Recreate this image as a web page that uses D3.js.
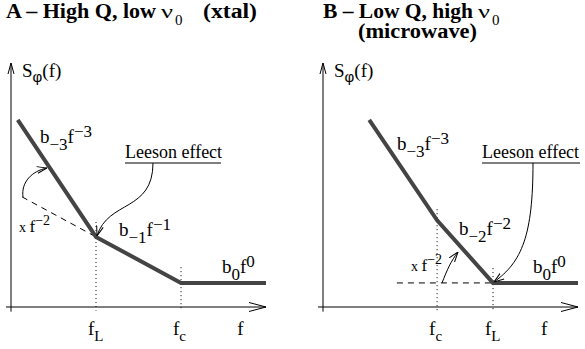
<!DOCTYPE html>
<html>
<head>
<meta charset="utf-8">
<script src="https://cdn.jsdelivr.net/npm/d3@7"></script>
<style>
  html, body { margin: 0; padding: 0; background: #fff; }
  svg { display: block; }
  text { font-family: "Liberation Serif", "Times New Roman", serif; fill: #000; }
</style>
</head>
<body>
<svg id="chart" width="585" height="349"></svg>
<script>
// Phase-noise power-law sketches (log-log), two oscillator types.

// Panel A: high-Q resonator (quartz) -- S_phi(f) breakpoints
const aFreq = [1.2, 10, 100, 1000];
const aNoise = [3500, 10, 1, 1];
// f^-1 segment extended back to low frequency (dashed guide)
const aGuideFreq = [1.35, 10];
const aGuideNoise = [74, 10];
// corner frequencies marked on the f axis, with the height of each dotted marker
const aCornerFreq = [10, 100];
const aCornerTop = [21, 2.2];
const aCornerSub = ["L", "c"];

// Panel B: low-Q resonator (microwave)
const bFreq = [3.5, 22, 100, 1000];
const bNoise = [3500, 23, 1, 1];
// flat floor extended back to low frequency (dashed guide)
const bGuideFreq = [7.4, 100];
const bGuideNoise = [1, 1];
const bCornerFreq = [22, 100];
const bCornerTop = [40, 2.1];
const bCornerSub = ["c", "L"];

const freqDomain = [1, 1000];
const noiseDomain = [0.3, 60000];
const noiseBottom = 0.25;

const SANS = "Liberation Sans, Arial, sans-serif";
const svg = d3.select("#chart");

// open arrowhead marker
const defs = svg.append("defs");
defs.append("marker")
  .attr("id", "openHead")
  .attr("viewBox", "0 0 10 10")
  .attr("refX", 10).attr("refY", 5)
  .attr("markerWidth", 10).attr("markerHeight", 10)
  .attr("markerUnits", "userSpaceOnUse")
  .attr("orient", "auto")
  .append("path")
  .attr("d", "M0,1.6 L10,5 L0,8.4")
  .attr("fill", "none").attr("stroke", "#000").attr("stroke-width", 1);

// text helper: parts = [text, kind, attrs]; kind "n", "sub" or "sup"
function richText(g, x, y, parts, size, opts = {}) {
  const t = g.append("text").attr("x", x).attr("y", y).attr("font-size", size);
  if (opts.weight) t.attr("font-weight", opts.weight);
  const small = opts.small || size * 0.9;
  const drop = opts.drop || 7, rise = opts.rise || 6;
  let shift = 0;
  parts.forEach(([s, kind, extra]) => {
    const ts = t.append("tspan").text(s);
    let target = 0, fs = size;
    if (kind === "sub") { target = drop; fs = small; }
    if (kind === "sup") { target = -rise; fs = small; }
    ts.attr("dy", target - shift).attr("font-size", fs);
    if (extra) Object.entries(extra).forEach(([k, v]) => ts.attr(k, v));
    shift = target;
  });
  return t;
}

// power-law term label  b_k f^k
function term(g, x, y, k) {
  return richText(g, x, y, [["b", "n"], [k, "sub"], ["f", "n"], [k, "sup"]], 19, { small: 17 });
}

// "x f^-2" multiplier label
function times(g, x, y) {
  return richText(g, x, y, [["x ", "n", { "font-size": 14 }], ["f", "n"], ["−2", "sup"]], 17, { small: 14, rise: 7 });
}

// fitted text run
function fitted(g, x, y, s, size, width, attrs = {}) {
  const t = g.append("text").attr("x", x).attr("y", y).attr("font-size", size)
    .attr("textLength", width).attr("lengthAdjust", "spacingAndGlyphs").text(s);
  Object.entries(attrs).forEach(([k, v]) => t.attr(k, v));
  return t;
}

// panel heading: bold words, then nu with a sans subscript zero
function heading(g, x, y, words, width) {
  fitted(g, x, y, words, 20, width, { "font-weight": "bold" });
  const nx = x + width + 5;
  fitted(g, nx, y, "ν", 19, 12);
  g.append("text").attr("x", nx + 14).attr("y", y + 7).attr("font-size", 15)
    .attr("font-family", SANS).text("0");
}

function panel(cfg) {
  const g = svg.append("g");
  const x = d3.scaleLog().domain(freqDomain).range(cfg.xRange);
  const y = d3.scaleLog().domain(noiseDomain).range([307, 63]);
  const x0 = cfg.xRange[0], x1 = cfg.xRange[1];
  const yb = y(noiseDomain[0]), yt = y(noiseDomain[1]);

  // axes with open arrowheads
  g.append("line").attr("x1", x0).attr("x2", x0)
    .attr("y1", y(noiseBottom) + 1).attr("y2", yt)
    .attr("stroke", "#000").attr("stroke-width", 1);
  g.append("path").attr("d", `M${x0 - 3},${yt + 11} L${x0},${yt} L${x0 + 3},${yt + 11}`)
    .attr("fill", "none").attr("stroke", "#000").attr("stroke-width", 1);
  g.append("line").attr("x1", x0 - 5).attr("x2", x1)
    .attr("y1", yb).attr("y2", yb)
    .attr("stroke", "#000").attr("stroke-width", 1);
  g.append("path").attr("d", `M${x1 - 17},${yb - 4.5} L${x1},${yb} L${x1 - 17},${yb + 4.5}`)
    .attr("fill", "none").attr("stroke", "#000").attr("stroke-width", 1);

  // dotted corner markers
  cfg.cornerFreq.forEach((f, i) => {
    g.append("line")
      .attr("x1", x(f)).attr("x2", x(f))
      .attr("y1", y(cfg.cornerTop[i])).attr("y2", y(noiseBottom))
      .attr("stroke", "#000").attr("stroke-width", 1)
      .attr("stroke-dasharray", "1,3");
    richText(g, x(f) - 8, 335, [["f", "n"], [cfg.cornerSub[i], "sub", { "font-size": 15 }]], 19, { drop: 6 });
  });
  g.append("text").attr("x", x(cfg.fLabelFreq)).attr("y", 335)
    .attr("font-size", 19).attr("text-anchor", "middle").text("f");

  // dashed guide
  const line = d3.line().x(d => x(d[0])).y(d => y(d[1]));
  g.append("path")
    .attr("d", line(d3.zip(cfg.guideFreq, cfg.guideNoise)))
    .attr("fill", "none").attr("stroke", "#000").attr("stroke-width", 1)
    .attr("stroke-dasharray", "6,5");

  // the power-law asymptotes
  g.append("path")
    .attr("d", line(d3.zip(cfg.freq, cfg.noise)))
    .attr("fill", "none").attr("stroke", "#444").attr("stroke-width", 4)
    .attr("stroke-linejoin", "miter");

  // y label
  richText(g, x0 + 11, 77, [["S", "n"], ["φ", "sub", { "font-family": SANS, "font-size": 15 }], ["(f)", "n"]], 19, { drop: 5 });

  return { g, x, y };
}

// ---------- Panel A ----------
const A = panel({
  xRange: [11, 266],
  freq: aFreq, noise: aNoise,
  guideFreq: aGuideFreq, guideNoise: aGuideNoise,
  cornerFreq: aCornerFreq, cornerTop: aCornerTop, cornerSub: aCornerSub,
  fLabelFreq: 500
});
heading(A.g, 6, 18, "A – High Q, low", 150);
fitted(A.g, 203, 18, "(xtal)", 20, 54, { "font-weight": "bold" });

term(A.g, 40, 143, "−3");
term(A.g, 119, 236, "−1");
term(A.g, 222, 273, "0");
times(A.g, 19, 232);

// Leeson annotation
A.g.append("text").attr("x", 125).attr("y", 158).attr("font-size", 18).text("Leeson effect");
A.g.append("line").attr("x1", 125).attr("x2", 221).attr("y1", 163).attr("y2", 163)
  .attr("stroke", "#000").attr("stroke-width", 1);
A.g.append("path")
  .attr("d", `M153,163 C153,212 108,200 ${A.x(aFreq[1]) + 1},${A.y(aNoise[1]) - 1}`)
  .attr("fill", "none").attr("stroke", "#000").attr("stroke-width", 1)
  .attr("marker-end", "url(#openHead)");
// x f^-2 arrow
A.g.append("path")
  .attr("d", "M23,197 C21,182 32,171 47,168")
  .attr("fill", "none").attr("stroke", "#000").attr("stroke-width", 1)
  .attr("marker-end", "url(#openHead)");

// ---------- Panel B ----------
const B = panel({
  xRange: [323, 578],
  freq: bFreq, noise: bNoise,
  guideFreq: bGuideFreq, guideNoise: bGuideNoise,
  cornerFreq: bCornerFreq, cornerTop: bCornerTop, cornerSub: bCornerSub,
  fLabelFreq: 400
});
heading(B.g, 323, 18, "B – Low Q, high", 150);
fitted(B.g, 358, 38, "(microwave)", 20, 119, { "font-weight": "bold" });

term(B.g, 397, 150, "−3");
term(B.g, 459, 235, "−2");
term(B.g, 533, 273, "0");
times(B.g, 411, 271);

B.g.append("text").attr("x", 482).attr("y", 158).attr("font-size", 18).text("Leeson effect");
B.g.append("line").attr("x1", 482).attr("x2", 580).attr("y1", 163).attr("y2", 163)
  .attr("stroke", "#000").attr("stroke-width", 1);
B.g.append("path")
  .attr("d", `M533,163 C533,235 522,262 ${B.x(bFreq[2]) + 1},${B.y(bNoise[2]) - 1}`)
  .attr("fill", "none").attr("stroke", "#000").attr("stroke-width", 1)
  .attr("marker-end", "url(#openHead)");
B.g.append("path")
  .attr("d", "M442,283 C447,270 451,261 458,252")
  .attr("fill", "none").attr("stroke", "#000").attr("stroke-width", 1)
  .attr("marker-end", "url(#openHead)");
</script>
</body>
</html>
